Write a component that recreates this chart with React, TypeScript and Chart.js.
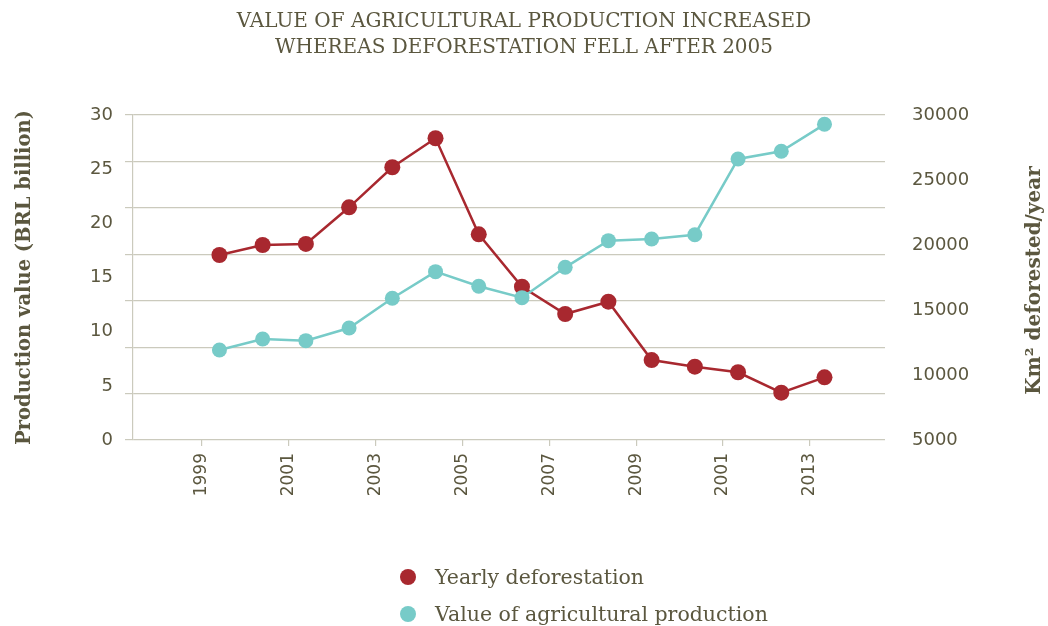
import React, { useEffect, useRef } from 'react';
import { Chart, registerables } from 'chart.js';

Chart.register(...registerables);

// ---- data ----
const years = [1999, 2000, 2001, 2002, 2003, 2004, 2005, 2006, 2007, 2008, 2009, 2010, 2011, 2012, 2013];
const deforestation = [19230, 20000, 20080, 22900, 25980, 28210, 20820, 16790, 14690, 15640, 11150, 10640, 10210, 8640, 9820];
const production = [8.31, 9.32, 9.17, 10.34, 13.08, 15.54, 14.19, 13.14, 15.94, 18.4, 18.55, 18.95, 25.94, 26.65, 29.14];
const xTickValues = [1999, 2001, 2003, 2005, 2007, 2009, 2011, 2013];
const xTickLabels = ['1999', '2001', '2003', '2005', '2007', '2009', '2001', '2013'];
const leftTicks = [0, 5, 10, 15, 20, 25, 30];
const rightTicks = [5000, 10000, 15000, 20000, 25000, 30000];
const gridBands = [0, 1, 2, 3, 4, 5, 6, 7];
const titleLines = ['VALUE OF AGRICULTURAL PRODUCTION INCREASED', 'WHEREAS DEFORESTATION FELL AFTER 2005'];
const leftAxisTitle = 'Production value (BRL billion)';
const rightAxisTitle = 'Km² deforested/year';
const seriesNames = ['Yearly deforestation', 'Value of agricultural production'];
const seriesColors = ['#a8282f', '#77cbc8'];

const textColor = '#5b573f';
const gridColor = '#cbcabd';
const serif = '"DejaVu Serif", serif';
const sans = '"DejaVu Sans", sans-serif';

const rightTitlePlugin = {
  id: 'rightTitle',
  afterDraw(chart: any) {
    const ctx = chart.ctx;
    const area = chart.chartArea;
    const s = chart.scales.y1;
    ctx.save();
    ctx.translate(s.right - 13, (area.top + area.bottom) / 2 + 3);
    ctx.rotate(-Math.PI / 2);
    ctx.font = `bold 20px ${serif}`;
    ctx.fillStyle = textColor;
    ctx.textAlign = 'center';
    ctx.textBaseline = 'middle';
    ctx.fillText(rightAxisTitle, 0, 0);
    ctx.restore();
  },
};

export default function App() {
  const ref = useRef<HTMLCanvasElement | null>(null);

  useEffect(() => {
    if (!ref.current) return;
    const chart = new Chart(ref.current, {
      type: 'line',
      data: {
        datasets: [
          {
            label: seriesNames[0],
            data: years.map((y, i) => ({ x: y, y: deforestation[i] })),
            xAxisID: 'x',
            yAxisID: 'y1',
            borderColor: seriesColors[0],
            backgroundColor: seriesColors[0],
            pointBackgroundColor: seriesColors[0],
            pointBorderWidth: 0,
            pointRadius: 8,
            borderWidth: 2.5,
            order: 2,
          },
          {
            label: seriesNames[1],
            data: years.map((y, i) => ({ x: y, y: production[i] })),
            xAxisID: 'x',
            yAxisID: 'y',
            borderColor: seriesColors[1],
            backgroundColor: seriesColors[1],
            pointBackgroundColor: seriesColors[1],
            pointBorderWidth: 0,
            pointRadius: 7.5,
            borderWidth: 2.5,
            order: 1,
          },
        ],
      },
      options: {
        animation: false,
        responsive: false,
        layout: { padding: 0 },
        plugins: {
          legend: { display: false },
          tooltip: { enabled: false },
          title: {
            display: true,
            text: titleLines,
            color: textColor,
            font: { family: serif, size: 20, weight: 'normal', lineHeight: 1.3 },
            padding: { top: 9, bottom: 54 },
          },
        },
        scales: {
          x: {
            type: 'linear',
            display: false,
            min: 1997,
            max: 2014.4,
          },
          xTicks: {
            type: 'linear',
            position: 'bottom',
            min: 1997.41,
            max: 2014.73,
            afterBuildTicks: (s: any) => {
              s.ticks = xTickValues.map((v) => ({ value: v }));
            },
            afterFit: (s: any) => {
              s.height = 186;
            },
            ticks: {
              autoSkip: false,
              maxRotation: 90,
              minRotation: 90,
              padding: 7,
              color: textColor,
              font: { family: sans, size: 17, weight: 'normal' },
              callback: (_v: any, i: number) => xTickLabels[i],
            },
            grid: { drawOnChartArea: false, drawTicks: true, tickLength: 6, color: gridColor, lineWidth: 1.2 },
            border: { display: false },
          },
          yGrid: {
            type: 'linear',
            position: 'left',
            weight: 0,
            min: 0,
            max: 7,
            afterBuildTicks: (s: any) => {
              s.ticks = gridBands.map((v) => ({ value: v }));
            },
            afterFit: (s: any) => {
              s.width = 8;
            },
            ticks: { display: false },
            grid: { color: gridColor, lineWidth: 1.2, tickLength: 8, drawTicks: true },
            border: { display: true, color: gridColor, width: 1.2 },
          },
          y: {
            type: 'linear',
            position: 'left',
            weight: 1,
            min: 0,
            max: 30,
            afterBuildTicks: (s: any) => {
              s.ticks = leftTicks.map((v) => ({ value: v }));
            },
            afterFit: (s: any) => {
              s.width = 125;
            },
            grid: { display: false },
            border: { display: false },
            ticks: {
              padding: 4,
              color: textColor,
              font: { family: sans, size: 18, weight: 'normal' },
            },
            title: {
              display: true,
              text: leftAxisTitle,
              color: textColor,
              font: { family: serif, size: 19.5, weight: 'bold', lineHeight: 1.2 },
              padding: { top: 13, bottom: 0 },
            },
          },
          y1: {
            type: 'linear',
            position: 'right',
            min: 5000,
            max: 30000,
            afterBuildTicks: (s: any) => {
              s.ticks = rightTicks.map((v) => ({ value: v }));
            },
            afterFit: (s: any) => {
              s.width = 163;
            },
            grid: { display: false },
            border: { display: false },
            ticks: {
              padding: 19,
              color: textColor,
              font: { family: sans, size: 18, weight: 'normal' },
              callback: (v: any) => String(v),
            },
          },
        },
      } as any,
      plugins: [rightTitlePlugin],
    });
    return () => chart.destroy();
  }, []);

  return (
    <div style={{ position: 'fixed', left: 0, top: 0, width: 1048, height: 626, background: '#fff' }}>
      <canvas ref={ref} width={1048} height={626} style={{ display: 'block' }} />
      <div style={{ position: 'absolute', left: 400, top: 558, fontFamily: serif, fontSize: 20.5, color: textColor }}>
        {seriesNames.map((name, i) => (
          <div key={name} style={{ display: 'flex', alignItems: 'center', height: 37 }}>
            <span
              style={{
                display: 'inline-block',
                width: 16,
                height: 16,
                borderRadius: 8,
                background: seriesColors[i],
                marginRight: 19,
              }}
            />
            <span>{name}</span>
          </div>
        ))}
      </div>
    </div>
  );
}
